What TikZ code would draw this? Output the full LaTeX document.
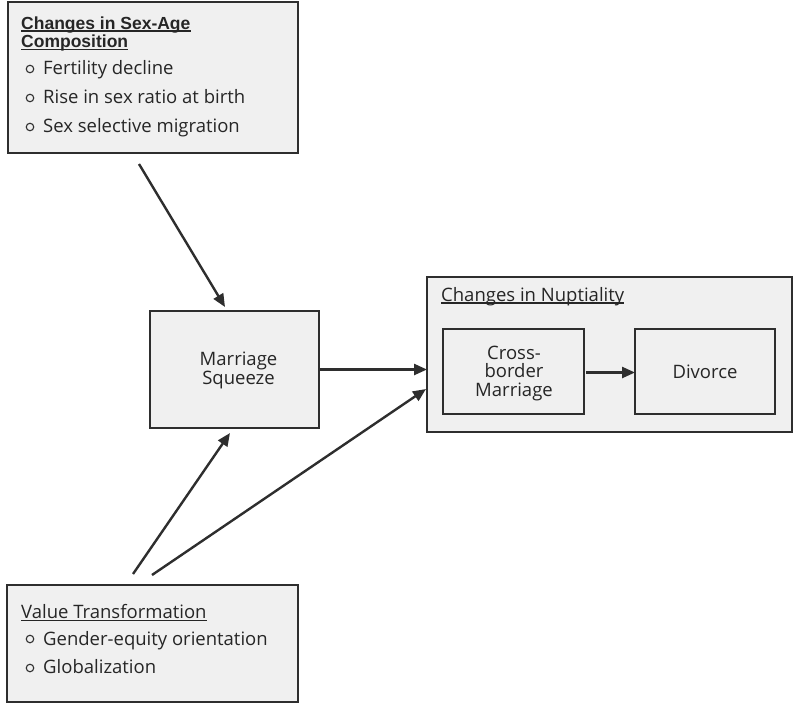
\documentclass[tikz,border=0pt]{standalone}
\usepackage{fontspec}
\setmainfont{Open Sans}
\newfontfamily\headfont{Liberation Sans}
\usetikzlibrary{arrows.meta}
\definecolor{boxfill}{HTML}{F0F0F0}
\definecolor{edge}{HTML}{2E2E2E}
\definecolor{ink}{HTML}{262626}
\tikzset{
  box/.style={draw=edge, fill=boxfill, line width=1.4pt, inner sep=0pt, outer sep=0pt},
  innerbox/.style={draw=edge, fill=boxfill, line width=2pt, inner sep=0pt, outer sep=0pt},
  txt/.style={text=ink, font=\fontsize{18.5}{20}\selectfont, inner sep=0pt, anchor=base west},
  ctxt/.style={text=ink, font=\fontsize{18.5}{18.5}\selectfont, inner sep=0pt, align=center},
  head/.style={text=ink, font=\headfont\bfseries\fontsize{17.5}{20}\selectfont, inner sep=0pt, anchor=base west},
  bul/.style={circle, draw=edge, line width=1.1pt, minimum size=7.5pt, inner sep=0pt},
  uline/.style={draw=ink, line width=1.5pt},
  arr/.style={draw=edge, line width=2.4pt, -{Triangle[length=13pt,width=11pt]}},
}
\begin{document}
\begin{tikzpicture}[x=1pt,y=-1pt]
\useasboundingbox (0,0) rectangle (795,705);
% boxes
\node[box, minimum width=290pt, minimum height=151pt] (sexage) at (153,77.5) {};
\node[box, minimum width=169pt, minimum height=117pt] (ms) at (234.5,369.5) {};
\node[box, minimum width=365pt, minimum height=155pt] (nupt) at (609.5,354.5) {};
\node[innerbox, minimum width=141pt, minimum height=85pt] (cb) at (513.5,371.5) {};
\node[innerbox, minimum width=140pt, minimum height=85pt] (div) at (705,371.5) {};
\node[box, minimum width=291pt, minimum height=117pt] (val) at (152.5,643.5) {};
% texts top box
\node[head] (h1) at (21,29) {Changes in Sex-Age};
\node[head] (h2) at (21,47.5) {Composition};
\draw[uline] ([yshift=-1.8pt]h1.base west) -- ([yshift=-1.8pt]h1.base east);
\draw[uline] ([yshift=-1.8pt]h2.base west) -- ([yshift=-1.8pt]h2.base east);
\node[bul] (b1) at (30,69) {};
\node[txt] (t1) at (43,74) {Fertility decline};
\node[bul] (b2) at (30,98) {};
\node[txt] (t2) at (43,103) {Rise in sex ratio at birth};
\node[bul] (b3) at (30,127) {};
\node[txt] (t3) at (43,132) {Sex selective migration};
% marriage squeeze
\node[ctxt] (mst) at (238.5,370.5) {Marriage\\Squeeze};
% nuptiality
\node[txt] (nh) at (441,301) {Changes in Nuptiality};
\draw[uline] ([yshift=-2pt]nh.base west) -- ([yshift=-2pt]nh.base east);
\node[ctxt] (cbt) at (514,373.5) {Cross-\\border\\Marriage};
\node[ctxt] (divt) at (705,371.5) {Divorce};
% value transformation
\node[txt] (vh) at (21,618) {Value Transformation};
\draw[uline] ([yshift=-2.5pt]vh.base west) -- ([yshift=-2.5pt]vh.base east);
\node[bul] (b4) at (30,639) {};
\node[txt] (t4) at (43,645) {Gender-equity orientation};
\node[bul] (b5) at (30,668) {};
\node[txt] (t5) at (43,673) {Globalization};
% arrow end coordinates
\coordinate (a1s) at (139,164);
\coordinate (a1e) at (225,307);
\coordinate (a3s) at (133,574);
\coordinate (a3e) at (230,433);
\coordinate (a4s) at (152,575);
\coordinate (a4e) at (426,389);
% connectors
\draw[arr] (a1s) -- (a1e);
\draw[arr] (ms.east) -- (ms.east -| nupt.west);
\draw[arr] (cb.east) ++(2,1) coordinate (cbx) (cbx) -- (cbx -| div.west);
\draw[arr] (a3s) -- (a3e);
\draw[arr] (a4s) -- (a4e);
\end{tikzpicture}
\end{document}
